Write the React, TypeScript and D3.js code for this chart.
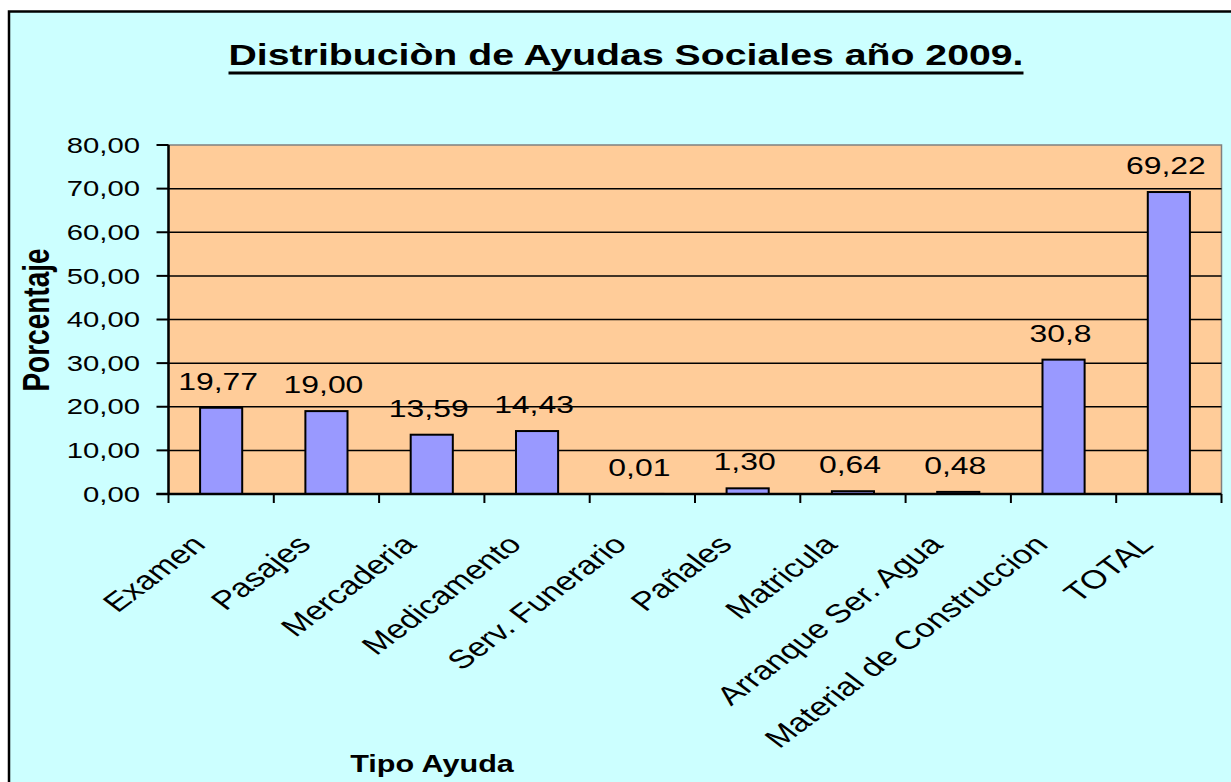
import { useEffect, useRef } from "react";
import * as d3 from "d3";

const categories = [
  "Examen",
  "Pasajes",
  "Mercaderia",
  "Medicamento",
  "Serv. Funerario",
  "Pañales",
  "Matricula",
  "Arranque Ser. Agua",
  "Material de Construccion",
  "TOTAL",
];
const values = [19.77, 19.0, 13.59, 14.43, 0.01, 1.3, 0.64, 0.48, 30.8, 69.22];
const valueLabels = ["19,77", "19,00", "13,59", "14,43", "0,01", "1,30", "0,64", "0,48", "30,8", "69,22"];
const yTicks = [0, 10, 20, 30, 40, 50, 60, 70, 80];

const title = "Distribuciòn de Ayudas Sociales año 2009.";
const yTitle = "Porcentaje";
const xTitle = "Tipo Ayuda";

const FONT = "'Liberation Sans', Arial, Helvetica, sans-serif";
const SX = 1.33; // the original picture is stretched sideways

export default function App() {
  const svgRef = useRef<SVGSVGElement>(null);
  const width = 1231;
  const height = 782;

  useEffect(() => {
    if (!svgRef.current) return;
    const svg = d3.select(svgRef.current);
    svg.selectAll("*").remove();

    const plot = { left: 168.5, right: 1221.5, top: 145, bottom: 494 };

    const x = d3.scaleBand<string>()
      .domain(categories)
      .range([plot.left, plot.right])
      .padding(0);
    const y = d3.scaleLinear().domain([0, 80]).range([plot.bottom, plot.top]);
    const fmt = (v: number) => v.toFixed(2).replace(".", ",");

    // background and frame
    svg.append("rect")
      .attr("x", 9).attr("y", 11.5)
      .attr("width", width + 20).attr("height", height + 20)
      .attr("fill", "#CCFFFF")
      .attr("stroke", "#000")
      .attr("stroke-width", 2.5);

    // plot area
    svg.append("rect")
      .attr("x", plot.left).attr("y", plot.top)
      .attr("width", plot.right - plot.left)
      .attr("height", plot.bottom - plot.top)
      .attr("fill", "#FFCC99")
      .attr("stroke", "#808080")
      .attr("stroke-width", 1.5);

    // gridlines
    svg.append("g")
      .selectAll("line")
      .data(yTicks.filter(t => t > 0 && t < 80))
      .join("line")
      .attr("x1", plot.left).attr("x2", plot.right)
      .attr("y1", d => y(d)).attr("y2", d => y(d))
      .attr("stroke", "#000")
      .attr("stroke-width", 1.5);

    // bars
    const bw = x.bandwidth() * 0.4;
    svg.append("g")
      .selectAll("rect")
      .data(values)
      .join("rect")
      .attr("x", (_, i) => x(categories[i])! + (x.bandwidth() - bw) / 2)
      .attr("y", d => y(d))
      .attr("width", bw)
      .attr("height", d => plot.bottom - y(d))
      .attr("fill", "#9999FF")
      .attr("stroke", "#000")
      .attr("stroke-width", 2);

    // value labels
    svg.append("g")
      .selectAll("text")
      .data(values)
      .join("text")
      .attr("transform", (d, i) =>
        `translate(${x(categories[i])! + x.bandwidth() / 2 - 3},${y(d) - 18}) scale(${SX},1)`)
      .attr("text-anchor", "middle")
      .attr("font-family", FONT)
      .attr("font-size", 24)
      .attr("fill", "#000")
      .text((_, i) => valueLabels[i]);

    // y axis
    svg.append("line")
      .attr("x1", plot.left).attr("x2", plot.left)
      .attr("y1", plot.top).attr("y2", plot.bottom)
      .attr("stroke", "#000").attr("stroke-width", 2.5);
    const yAxis = svg.append("g");
    yAxis.selectAll("line")
      .data(yTicks)
      .join("line")
      .attr("x1", plot.left - 12).attr("x2", plot.left)
      .attr("y1", d => y(d)).attr("y2", d => y(d))
      .attr("stroke", "#000").attr("stroke-width", 2);
    yAxis.selectAll("text")
      .data(yTicks)
      .join("text")
      .attr("transform", d => `translate(140,${y(d)}) scale(${SX},1)`)
      .attr("text-anchor", "end")
      .attr("dominant-baseline", "central")
      .attr("font-family", FONT)
      .attr("font-size", 22)
      .attr("fill", "#000")
      .text(d => fmt(d));

    // x axis
    svg.append("line")
      .attr("x1", plot.left - 12).attr("x2", plot.right)
      .attr("y1", plot.bottom).attr("y2", plot.bottom)
      .attr("stroke", "#000").attr("stroke-width", 2.5);
    const bounds = categories.map(c => x(c)!).concat([plot.right]);
    svg.append("g")
      .selectAll("line")
      .data(bounds)
      .join("line")
      .attr("x1", d => d).attr("x2", d => d)
      .attr("y1", plot.bottom).attr("y2", plot.bottom + 9)
      .attr("stroke", "#000").attr("stroke-width", 2);
    svg.append("g")
      .selectAll("text")
      .data(categories)
      .join("text")
      .attr("transform", d =>
        `translate(${x(d)! + x.bandwidth() / 2 - 14},546) scale(${SX},1) rotate(-45)`)
      .attr("text-anchor", "end")
      .attr("font-family", FONT)
      .attr("font-size", 26)
      .attr("fill", "#000")
      .text(d => d);

    // axis titles
    svg.append("text")
      .attr("transform", `translate(49,320) scale(${SX},1) rotate(-90)`)
      .attr("text-anchor", "middle")
      .attr("font-family", FONT)
      .attr("font-weight", "bold")
      .attr("font-size", 28)
      .attr("fill", "#000")
      .text(yTitle);
    svg.append("text")
      .attr("transform", `translate(432,772) scale(${SX},1)`)
      .attr("text-anchor", "middle")
      .attr("font-family", FONT)
      .attr("font-weight", "bold")
      .attr("font-size", 23)
      .attr("fill", "#000")
      .text(xTitle);

    // title with underline
    const tg = svg.append("g").attr("transform", `translate(626,65) scale(${SX},1)`);
    const tt = tg.append("text")
      .attr("text-anchor", "middle")
      .attr("font-family", FONT)
      .attr("font-weight", "bold")
      .attr("font-size", 29.5)
      .attr("fill", "#000")
      .text(title);
    const tw = (tt.node() as SVGTextElement).getComputedTextLength();
    tg.append("line")
      .attr("x1", -tw / 2).attr("x2", tw / 2)
      .attr("y1", 8).attr("y2", 8)
      .attr("stroke", "#000").attr("stroke-width", 3);
  }, []);

  return (
    <svg
      ref={svgRef}
      width={width}
      height={height}
      style={{ position: "absolute", left: 0, top: 0, background: "#fff" }}
    />
  );
}
